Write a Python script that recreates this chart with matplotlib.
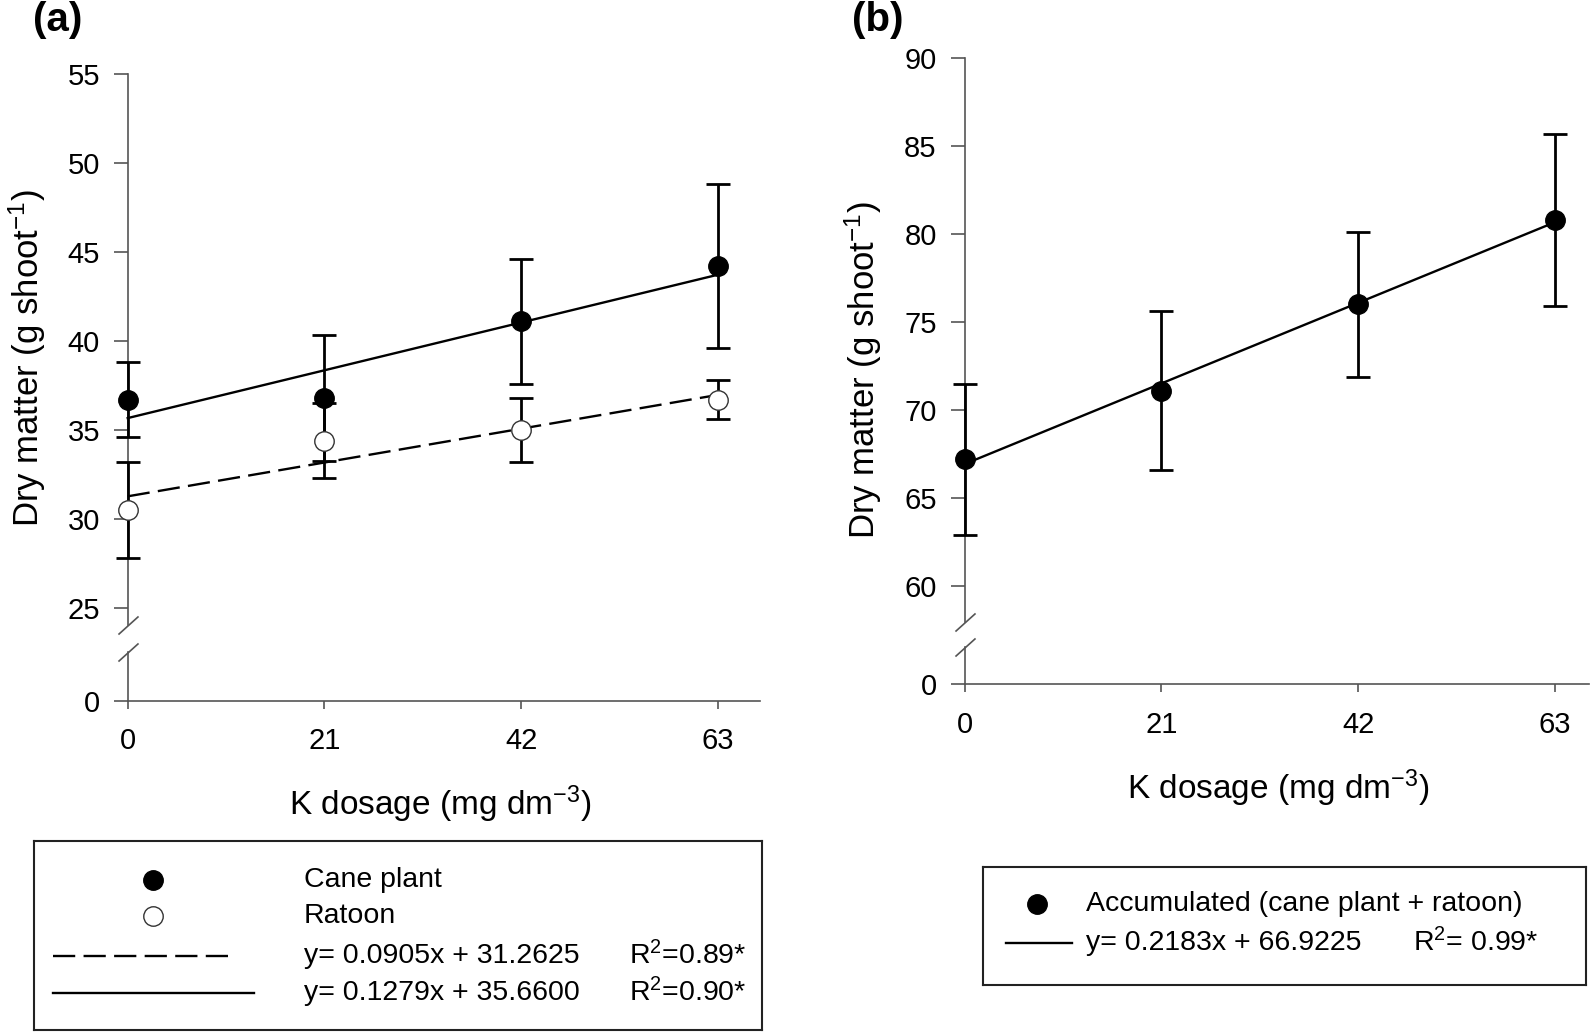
import numpy as np
import matplotlib.pyplot as plt

plt.rcParams['font.family'] = ['Liberation Sans', 'DejaVu Sans']
plt.rcParams['mathtext.fontset'] = 'custom'
plt.rcParams['mathtext.rm'] = 'Liberation Sans'
plt.rcParams['mathtext.it'] = 'Liberation Sans:italic'
plt.rcParams['lines.scale_dashes'] = False

# data
doses = [0, 21, 42, 63]
cane_mean = [36.7, 36.8, 41.1, 44.2]
cane_err = [2.1, 3.55, 3.5, 4.6]
ratoon_mean = [30.5, 34.4, 35.0, 36.7]
ratoon_err = [2.7, 2.1, 1.8, 1.1]
accum_mean = [67.2, 71.1, 76.0, 80.8]
accum_err = [4.3, 4.5, 4.1, 4.9]

# regression lines (slope, intercept) as printed in the legends
cane_fit = (0.1279, 35.6600)
ratoon_fit = (0.0905, 31.2625)
accum_fit = (0.2183, 66.9225)

a_yticks = [25, 30, 35, 40, 45, 50, 55]
b_yticks = [60, 65, 70, 75, 80, 85, 90]

W, H = 1594, 1035
AXC = '#555555'
TICK_FS = 21
XLAB_FS = 24
YLAB_FS = 25
LEG_FS = 20.5
DASH = (16, 6)
MS = 14

fig = plt.figure(figsize=(W / 100, H / 100), dpi=100)


def rect(l, t, r, b):
    # pixel box -> figure fraction rect
    return [l / W, 1 - b / H, (r - l) / W, (b - t) / H]


def fp(x, y):
    return x / W, 1 - y / H


def broken_panel(l, r, top, brk_top, brk_bot, bottom, ylim, xmax, yticks):
    ax = fig.add_axes(rect(l, top, r, brk_top))
    axb = fig.add_axes(rect(l, brk_bot, r, bottom), sharex=ax)
    for a in (ax, axb):
        a.patch.set_alpha(0)
        for s in ('top', 'right'):
            a.spines[s].set_visible(False)
        for s in ('left', 'bottom'):
            a.spines[s].set_color(AXC)
            a.spines[s].set_linewidth(1.2)
        a.tick_params(axis='y', direction='out', length=10, width=1.2,
                      color=AXC, labelsize=TICK_FS, pad=10)
    ax.spines['bottom'].set_visible(False)
    ax.tick_params(axis='x', bottom=False, labelbottom=False)
    ax.set_ylim(*ylim)
    ax.set_yticks(yticks)
    axb.set_ylim(0, 1)
    axb.set_yticks([0])
    axb.set_xlim(0, xmax)
    axb.set_xticks(doses)
    axb.tick_params(axis='x', direction='out', length=6, width=1.2,
                    color=AXC, labelsize=TICK_FS, pad=13)
    # break marks on the y axis
    kw = dict(marker=[(-1, -0.9), (1, 0.9)], markersize=14.5, linestyle='none',
              color=AXC, mew=1.2, clip_on=False)
    ax.plot([0], [0], transform=ax.transAxes, **kw)
    axb.plot([0], [1], transform=axb.transAxes, **kw)
    return ax, axb


def draw_series(ax, mean, err, fit, filled, dashed):
    eb = ax.errorbar(doses, mean, yerr=err, fmt='none', ecolor='black',
                     elinewidth=2.0, capsize=8.5, capthick=2.0, zorder=3)
    for art in list(eb.lines[1]) + list(eb.lines[2]):
        art.set_clip_on(False)
    xf = np.array([doses[0], doses[-1]])
    ls = dict(dashes=DASH) if dashed else dict(linestyle='-')
    ax.plot(xf, np.polyval(fit, xf), color='black', lw=1.7, zorder=4,
            clip_on=False, **ls)
    if filled:
        ax.plot(doses, mean, 'o', ms=MS, mfc='black', mec='black',
                zorder=5, clip_on=False)
    else:
        ax.plot(doses, mean, 'o', ms=MS, mfc='white', mec='#333333', mew=1.0,
                zorder=5, clip_on=False)


# ---- panel (a)
axa, axa_b = broken_panel(127.7, 760, 74, 625, 652, 701, (24.03, 55), 67.5, a_yticks)
draw_series(axa, ratoon_mean, ratoon_err, ratoon_fit, False, True)
draw_series(axa, cane_mean, cane_err, cane_fit, True, False)

# ---- panel (b)
axb_, axb_b = broken_panel(964.5, 1589, 58, 622, 647, 684.3, (57.95, 90), 66.6, b_yticks)
draw_series(axb_, accum_mean, accum_err, accum_fit, True, False)

# labels
fig.text(*fp(27, 358), 'Dry matter (g shoot$^{-1}$)', rotation=90,
         ha='center', va='center', fontsize=YLAB_FS)
fig.text(*fp(863, 370), 'Dry matter (g shoot$^{-1}$)', rotation=90,
         ha='center', va='center', fontsize=YLAB_FS)
fig.text(*fp(440, 815), 'K dosage (mg dm$^{-3}$)', ha='center', va='baseline',
         fontsize=XLAB_FS)
fig.text(*fp(1278, 799), 'K dosage (mg dm$^{-3}$)', ha='center', va='baseline',
         fontsize=XLAB_FS)
fig.text(*fp(33, 20), '(a)', fontsize=29, fontweight='bold', ha='left', va='center')
fig.text(*fp(852, 20), '(b)', fontsize=29, fontweight='bold', ha='left', va='center')


def legend_box(l, t, r, b):
    lax = fig.add_axes(rect(l, t, r, b))
    lax.set_xticks([])
    lax.set_yticks([])
    for s in lax.spines.values():
        s.set_linewidth(1.5)
        s.set_color('#222222')
    return lax


tf = fig.transFigure

# ---- legend (a)
la = legend_box(34, 841, 762, 1030)
la.plot(*zip(fp(152.5, 880)), 'o', ms=MS, mfc='black', mec='black', transform=tf)
la.plot(*zip(fp(152.5, 916)), 'o', ms=MS, mfc='white', mec='#333333', mew=1.0, transform=tf)
la.plot(*zip(fp(53, 955.6), fp(236, 955.6)), color='black', lw=1.7, dashes=DASH,
        transform=tf, clip_on=False)
la.plot(*zip(fp(53, 993), fp(254, 993)), color='black', lw=1.7, transform=tf,
        clip_on=False)
rows_a = [('Cane plant', None, 880), ('Ratoon', None, 916),
          ('y= 0.0905x + 31.2625', 'R$^2$=0.89*', 955.6),
          ('y= 0.1279x + 35.6600', 'R$^2$=0.90*', 993)]
for txt, r2, y in rows_a:
    fig.text(*fp(304, y), txt, ha='left', va='center', fontsize=LEG_FS)
    if r2:
        fig.text(*fp(629, y), r2, ha='left', va='center', fontsize=LEG_FS)

# ---- legend (b)
lb = legend_box(983, 867, 1586, 985)
lb.plot(*zip(fp(1037, 904)), 'o', ms=MS, mfc='black', mec='black', transform=tf)
lb.plot(*zip(fp(1006, 943), fp(1072, 943)), color='black', lw=1.7, transform=tf,
        clip_on=False)
fig.text(*fp(1086, 904), 'Accumulated (cane plant + ratoon)', ha='left', va='center',
         fontsize=LEG_FS)
fig.text(*fp(1086, 943), 'y= 0.2183x + 66.9225', ha='left', va='center', fontsize=LEG_FS)
fig.text(*fp(1413, 943), 'R$^2$= 0.99*', ha='left', va='center', fontsize=LEG_FS)

fig.savefig('out.png', dpi=100)
